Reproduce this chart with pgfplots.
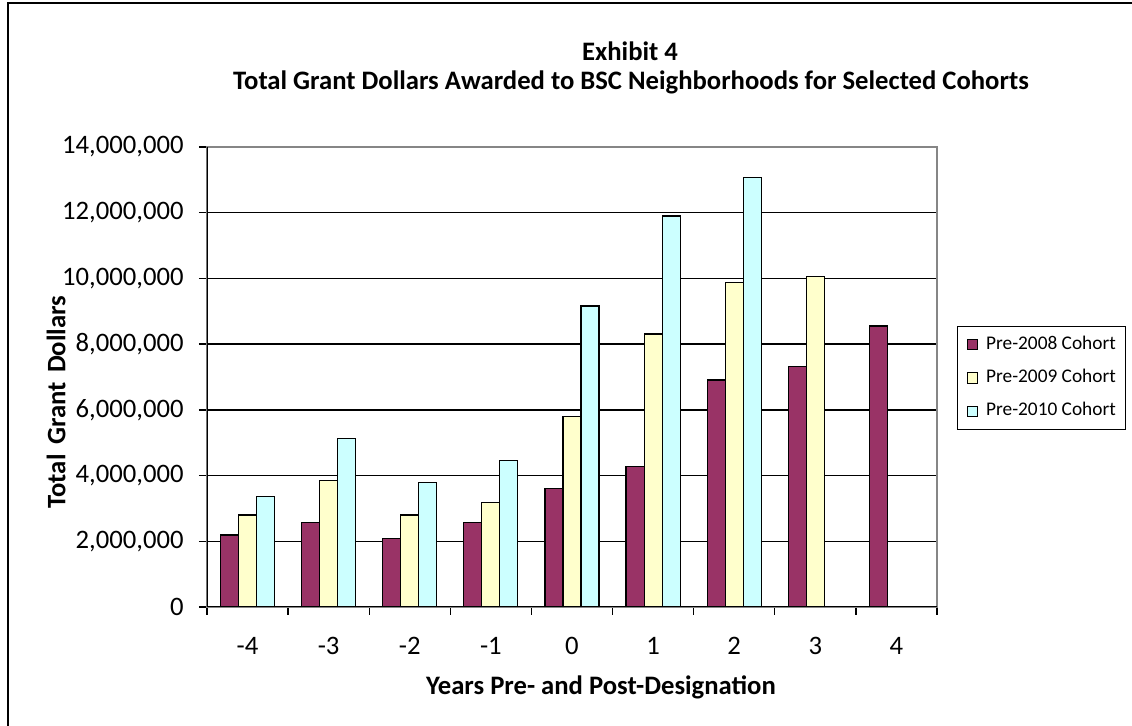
\documentclass[border=0pt]{standalone}
\usepackage{pgfplots}
\pgfplotsset{compat=1.18}
\usepackage{fontspec}
\setmainfont{Carlito}

\definecolor{cohortA}{HTML}{993366}
\definecolor{cohortB}{HTML}{FFFFCC}
\definecolor{cohortC}{HTML}{CCFFFF}
\definecolor{frameGray}{HTML}{868686}

\newcommand{\labelfont}{\bfseries\fontsize{20}{24}\selectfont}

\begin{document}
\begin{tikzpicture}[x=0.75pt,y=0.75pt]
\begin{axis}[
  at={(155.25pt,88.5pt)}, anchor=south west,
  scale only axis, width=547.5pt, height=345pt,
  ybar, bar width=0.222,
  xmin=-0.5, xmax=8.5, ymin=0, ymax=14000000,
  xtick={-0.5,0.5,...,8.5}, xticklabels={},
  extra x ticks={0,1,2,3,4,5,6,7,8},
  extra x tick labels={-4,-3,-2,-1,0,1,2,3,4},
  extra x tick style={major tick length=0pt,
    xticklabel style={anchor=base, yshift=-36pt}},
  ytick={0,2000000,4000000,6000000,8000000,10000000,12000000,14000000},
  scaled y ticks=false,
  /pgf/number format/fixed,
  /pgf/number format/1000 sep={,},
  /pgf/number format/assume math mode=true,
  yticklabel style={xshift=-8pt},
  tick label style={font=\fontsize{20}{24}\selectfont},
  tick align=outside, major tick length=6pt,
  tick style={black, line width=1pt},
  xtick pos=left, ytick pos=left,
  ymajorgrids, grid style={black, line width=1pt},
  axis line style={draw=frameGray, line width=1.1pt},
  every axis plot/.append style={draw=black, line width=0.9pt},
  legend image code/.code={\draw[#1, line width=0.8pt] (0pt,-3.9pt) rectangle (7.6pt,3.7pt);},
  legend style={at={(1.0274,0.611)}, anchor=north west, draw=black, line width=0.9pt,
    font=\fontsize{14.5}{17}\selectfont, inner xsep=7pt, inner ysep=7pt,
    row sep=12pt, column sep=6pt,
    nodes={inner sep=0pt, text height=10pt, text depth=3pt}},
  legend cell align=left,
]
\addplot[fill=cohortA, bar shift=-0.222] coordinates {
  (0,2190000) (1,2570000) (2,2080000) (3,2570000) (4,3610000)
  (5,4270000) (6,6910000) (7,7310000) (8,8550000)};
\addplot[fill=cohortB, bar shift=0] coordinates {
  (0,2800000) (1,3860000) (2,2800000) (3,3190000) (4,5800000)
  (5,8310000) (6,9880000) (7,10070000)};
\addplot[fill=cohortC, bar shift=0.222] coordinates {
  (0,3360000) (1,5130000) (2,3790000) (3,4460000) (4,9160000)
  (5,11900000) (6,13070000)};
\legend{Pre-2008 Cohort, Pre-2009 Cohort, Pre-2010 Cohort}
\draw[black, line width=1.2pt] (rel axis cs:0,1) -- (rel axis cs:0,0) -- (rel axis cs:1,0);
\end{axis}

% chart frame (left and top edges)
\draw[black, line width=1.2pt] (8,-10) -- (8,722) -- (1145,722);

% titles
\node[font=\labelfont] at (630,674) {Exhibit 4};
\node[font=\labelfont] at (631,643)
  {Total Grant Dollars Awarded to BSC Neighborhoods for Selected Cohorts};
\node[font=\labelfont] at (601,38)
  {Years Pre- and Post-Designation};
\node[font=\labelfont, rotate=90] at (56,323)
  {Total\hspace{0.36em}Grant\hspace{0.36em}Dollars};

\pgfresetboundingbox
\path[use as bounding box] (0,0) rectangle (1132,725);
\end{tikzpicture}
\end{document}
